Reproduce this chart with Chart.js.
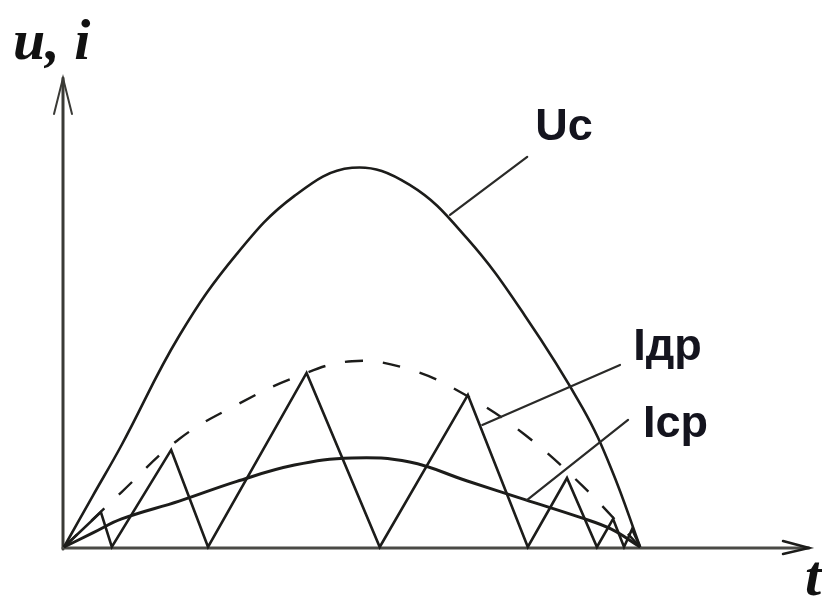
<!DOCTYPE html>
<html>
<head>
<meta charset="utf-8">
<script src="https://cdn.jsdelivr.net/npm/chart.js@4/dist/chart.umd.min.js"></script>
<style>
  html, body { margin: 0; padding: 0; background: #ffffff; }
  #wrap { width: 822px; height: 597px; position: relative; }
</style>
</head>
<body>
<div id="wrap"><canvas id="c"></canvas></div>
<script>
// ---- data (time t in ms, values in relative units) ----
const tUc  = [0, 0.5, 1, 2, 3, 4, 5, 6, 7, 8, 9, 9.5, 10];
const vUc  = [0, 13.5, 26.9, 55.7, 77.3, 92.6, 100, 95.5, 81.3, 61, 36.7, 20.6, 0];

const tEnv = [0, 1, 2, 3, 4, 5, 6, 7, 8, 9, 10];
const vEnv = [0, 14.5, 28.5, 37.5, 44.7, 49, 46.8, 39.8, 29.6, 16.1, 0];

const tIcp = [0, 0.5, 1, 2, 3, 4, 5, 6, 7, 8, 9, 9.5, 10];
const vIcp = [0, 3.7, 7.4, 12.1, 17.3, 21.6, 23.5, 22.4, 17.4, 12.5, 7.6, 4.7, 0];

const tIdr = [0, 0.64, 0.83, 1.86, 2.50, 4.21, 5.48, 7.01, 8.05, 8.73, 9.25, 9.53, 9.72, 9.86, 10];
const vIdr = [0, 9.2, 0, 25.6, 0, 45.9, 0, 40.1, 0, 18.2, 0, 7.4, 0, 4.7, 0];

// curve labels and their leader lines (data coordinates)
const labelNames = ["Uc", "Iдр", "Icp"];
const labelT     = [8.18, 9.88, 10.05];
const labelV     = [107.4, 49.3, 29.0];
const leaderFrom = [[6.70, 87.6], [7.26, 32.2], [8.04, 12.4]];
const leaderTo   = [[8.04, 102.9], [9.65, 48.0], [9.79, 33.5]];

const axisLabelY = "u, i";
const axisLabelX = "t";
const tMax = 13, vMax = 125;

const pts = (ts, vs) => ts.map((t, i) => ({ x: t, y: vs[i] }));
const INK = "#1c1c1a";

const overlay = {
  id: "overlay",
  beforeDatasetsDraw(chart) {
    const ctx = chart.ctx, xs = chart.scales.x, ys = chart.scales.y;
    const x0 = xs.getPixelForValue(0), y0 = ys.getPixelForValue(0);
    const yTop = ys.getPixelForValue(vMax) + 5;
    const xEnd = xs.getPixelForValue(tMax) - 4;
    ctx.save();
    ctx.lineCap = "round";
    // y axis
    ctx.strokeStyle = "#3a3a36"; ctx.lineWidth = 3;
    ctx.beginPath(); ctx.moveTo(x0 - 1, y0 + 2); ctx.lineTo(x0 - 1, yTop); ctx.stroke();
    ctx.lineWidth = 2;
    ctx.beginPath();
    ctx.moveTo(x0 - 10, yTop + 36); ctx.lineTo(x0 - 1, yTop); ctx.lineTo(x0 + 8, yTop + 36);
    ctx.stroke();
    // x axis
    ctx.strokeStyle = "#4a4a46"; ctx.lineWidth = 3;
    ctx.beginPath(); ctx.moveTo(x0 - 1, y0 + 1); ctx.lineTo(xEnd, y0 + 1); ctx.stroke();
    ctx.strokeStyle = "#1c1c1a"; ctx.lineWidth = 2.5;
    ctx.beginPath();
    ctx.moveTo(xEnd - 26, y0 - 6); ctx.lineTo(xEnd, y0 + 1); ctx.lineTo(xEnd - 26, y0 + 7);
    ctx.stroke();
    ctx.restore();
  },
  afterDatasetsDraw(chart) {
    const ctx = chart.ctx, xs = chart.scales.x, ys = chart.scales.y;
    const x0 = xs.getPixelForValue(0), y0 = ys.getPixelForValue(0);
    ctx.save();
    // leader lines
    ctx.strokeStyle = "#2a2a28"; ctx.lineWidth = 2.2; ctx.lineCap = "round";
    for (let i = 0; i < leaderFrom.length; i++) {
      ctx.beginPath();
      ctx.moveTo(xs.getPixelForValue(leaderFrom[i][0]), ys.getPixelForValue(leaderFrom[i][1]));
      ctx.lineTo(xs.getPixelForValue(leaderTo[i][0]), ys.getPixelForValue(leaderTo[i][1]));
      ctx.stroke();
    }
    // curve labels
    ctx.fillStyle = "#14141e";
    ctx.font = "bold 45px 'Liberation Sans', Arial, sans-serif";
    ctx.textBaseline = "alphabetic"; ctx.textAlign = "left";
    for (let i = 0; i < labelNames.length; i++) {
      ctx.fillText(labelNames[i], xs.getPixelForValue(labelT[i]), ys.getPixelForValue(labelV[i]));
    }
    // axis titles
    ctx.fillStyle = "#111111";
    ctx.font = "bold italic 58px 'Liberation Serif', 'Times New Roman', serif";
    ctx.fillText(axisLabelY, x0 - 51, ys.getPixelForValue(vMax) - 14);
    ctx.fillText(axisLabelX, xs.getPixelForValue(tMax) - 8, y0 + 48);
    ctx.restore();
  }
};

new Chart(document.getElementById("c"), {
  type: "line",
  data: {
    datasets: [
      { label: "Uc", data: pts(tUc, vUc), borderColor: INK, borderWidth: 2.6,
        tension: 0.4, pointRadius: 0, fill: false, clip: false },
      { label: "env", data: pts(tEnv, vEnv), borderColor: INK, borderWidth: 2.4,
        borderDash: [18, 20], tension: 0.4, pointRadius: 0, fill: false, clip: false },
      { label: "Icp", data: pts(tIcp, vIcp), borderColor: INK, borderWidth: 3,
        tension: 0.4, pointRadius: 0, fill: false, clip: false },
      { label: "Iдр", data: pts(tIdr, vIdr), borderColor: INK, borderWidth: 2.6,
        tension: 0, pointRadius: 0, fill: false, clip: false, borderJoinStyle: "miter" }
    ]
  },
  options: {
    responsive: true,
    maintainAspectRatio: false,
    animation: false,
    events: [],
    layout: { padding: { left: 64, right: 9, top: 73, bottom: 50 } },
    plugins: { legend: { display: false }, tooltip: { enabled: false }, title: { display: false } },
    scales: {
      x: { type: "linear", min: 0, max: tMax, display: false },
      y: { type: "linear", min: 0, max: vMax, display: false }
    }
  },
  plugins: [overlay]
});
</script>
</body>
</html>
